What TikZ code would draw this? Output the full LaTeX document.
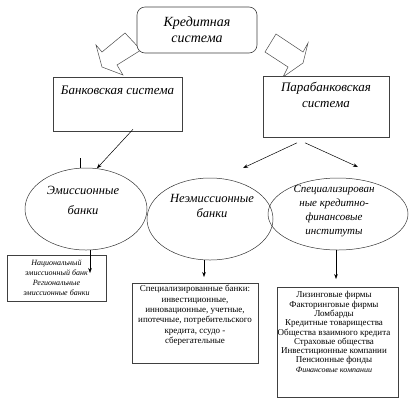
\documentclass[tikz,border=0pt]{standalone}
\usepackage{fontspec}
\setmainfont{Liberation Serif}
\usetikzlibrary{shapes.geometric,arrows.meta,calc}
\begin{document}
\begin{tikzpicture}[x=1pt,y=-1pt,
  box/.style={draw=black!75, line width=0.6pt, fill=white, inner sep=0pt},
  oval/.style={ellipse, draw=black!80, line width=0.5pt, inner sep=0pt},
  blockarrow/.style={draw=black!70, line width=0.5pt, fill=white, line join=miter},
  conn/.style={draw=black, line width=0.5pt},
  arr/.style={conn, -{Stealth[length=5pt,width=3.6pt]}},
  txt/.style={align=center, inner sep=0pt},
]
\useasboundingbox (0,0) rectangle (411,405);

% block arrows
\draw[blockarrow] (125,33) -- (141,50) -- (117,65) -- (123,75) -- (102,67) -- (96,45) -- (102,52) -- cycle;
\draw[blockarrow] (276,34) -- (303,52) -- (308,43) -- (303,63) -- (283,77) -- (288,67) -- (265,52) -- cycle;

% top box
\node[box, rounded corners=8pt, minimum width=120pt, minimum height=46pt, align=center,
      font=\fontsize{14}{16}\selectfont\itshape] (top) at (197,30) {Кредитная\\система};

% second level boxes
\node[box, minimum width=129pt, minimum height=54pt] (bank) at (117.5,104) {};
\node[txt, font=\fontsize{13}{16}\selectfont\itshape] (banktxt) at (117.5,90) {Банковская система};
\node[box, minimum width=126pt, minimum height=61pt] (para) at (326,106.5) {};
\node[txt, font=\fontsize{13}{16}\selectfont\itshape] (paratxt) at (326,95) {Парабанковская\\система};

% ellipses
\node[oval, minimum width=122pt, minimum height=82pt] (emis) at (86,209) {};
\node[txt, font=\fontsize{12.5}{20}\selectfont\itshape] (emistxt) at (83,200) {Эмиссионные\\банки};
\node[oval, minimum width=126pt, minimum height=82pt] (nonemis) at (210,219) {};
\node[txt, font=\fontsize{12.5}{15}\selectfont\itshape] (nonemistxt) at (212,206) {Неэмиссионные\\банки};
\node[oval, minimum width=140pt, minimum height=72pt] (spec) at (338,214) {};
\node[txt, font=\fontsize{11}{13.7}\selectfont\itshape] (spectxt) at (334,211) {Специализирован\\ные кредитно-\\финансовые\\институты};

% bottom boxes
\node[box, minimum width=99pt, minimum height=46pt, align=center,
      font=\fontsize{8}{10}\selectfont\itshape] (leftbox) at (56.5,278)
      {Национальный\\эмиссионный банк\\Региональные\\эмиссионные банки};
\node[box, minimum width=126pt, minimum height=80pt] (midbox) at (195,323) {};
\node[txt, font=\fontsize{9}{10.4}\selectfont] (midtxt) at (195,315.5)
      {Специализированные банки:\\инвестиционные,\\инновационные, учетные,\\ипотечные, потребительского\\кредита, ссудо -\\сберегательные};
\node[box, minimum width=121pt, minimum height=110pt] (rightbox) at (337.5,342) {};
\node[txt, font=\fontsize{9}{9.3}\selectfont] (righttxt) at (334,332)
      {Лизинговые фирмы\\Факторинговые фирмы\\Ломбарды\\Кредитные товарищества\\Общества взаимного кредита\\Страховые общества\\Инвестиционные компании\\Пенсионные фонды\\{\fontsize{8}{9.3}\selectfont\itshape Финансовые компании}};

% connectors
\coordinate (tick) at (80,158);
\coordinate (lefttip) at (90,273);
\coordinate (netip) at (243,168);
\coordinate (sptip) at (358,167);
\coordinate (midtip) at (204,277);
\coordinate (righttip) at (336,279);

\draw[arr] ($(bank.south)+(15.5,-2)$) -- (emis.75);
\draw[conn, line width=0.9pt] (tick) -- (tick |- emis.north);
\draw[arr] (lefttip |- emis.south) -- (lefttip);
\draw[arr] ($(para.south)+(-29,5.5)$) -- (netip);
\draw[arr] ($(para.south)+(-21,5.5)$) -- (sptip);
\draw[arr] (midtip |- nonemis.south) -- (midtip);
\draw[arr] (righttip |- spec.south) -- (righttip);
\end{tikzpicture}
\end{document}
